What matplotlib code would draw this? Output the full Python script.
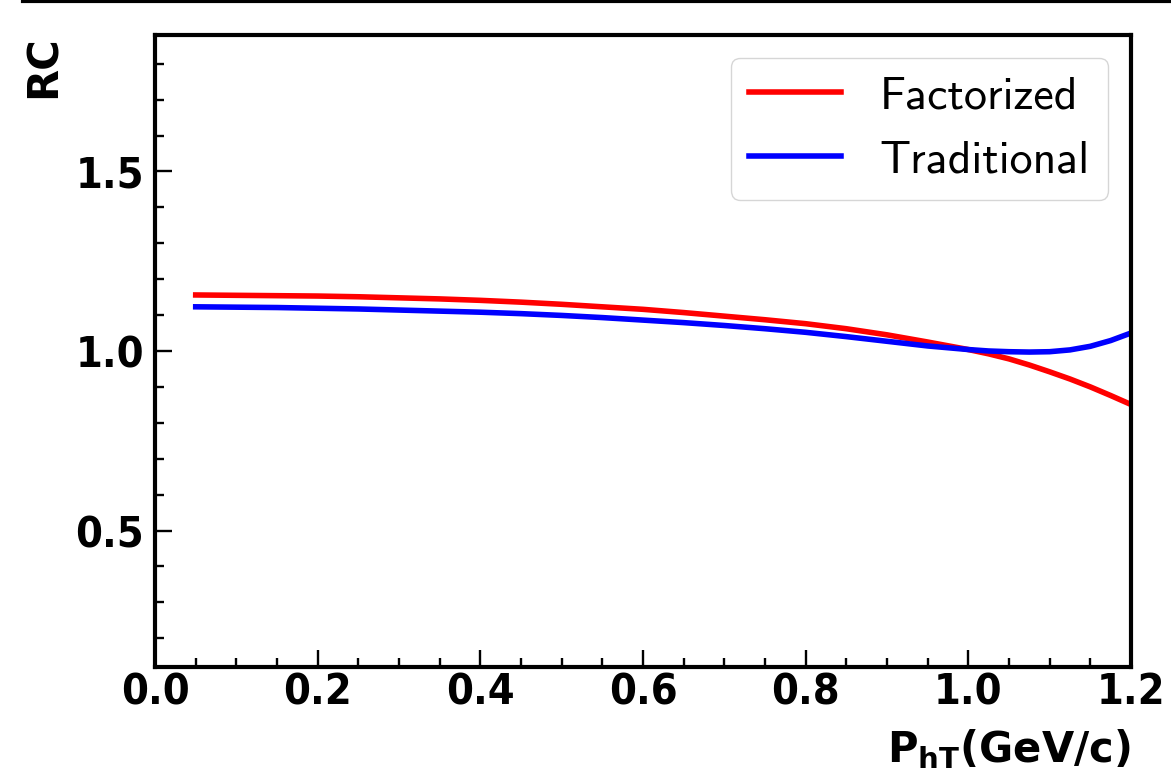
import matplotlib
matplotlib.use("Agg")
import matplotlib.pyplot as plt
from matplotlib.lines import Line2D
from matplotlib.ticker import MultipleLocator

# Transverse momentum grid (GeV/c)
pht = [0.05, 0.10, 0.15, 0.20, 0.25, 0.30, 0.35, 0.40, 0.45, 0.50,
       0.55, 0.60, 0.65, 0.70, 0.75, 0.80, 0.85, 0.90, 0.95, 1.00,
       1.025, 1.05, 1.075, 1.10, 1.125, 1.15, 1.175, 1.20]

# Radiative-correction factor for each approach
rc_factorized = [1.156, 1.155, 1.154, 1.153, 1.151, 1.148, 1.145, 1.141, 1.136, 1.130,
                 1.123, 1.116, 1.107, 1.097, 1.087, 1.076, 1.062, 1.045, 1.025, 1.004,
                 0.992, 0.978, 0.961, 0.942, 0.922, 0.900, 0.876, 0.851]
rc_traditional = [1.123, 1.122, 1.121, 1.119, 1.117, 1.114, 1.111, 1.108, 1.104, 1.099,
                  1.093, 1.086, 1.079, 1.071, 1.062, 1.052, 1.040, 1.027, 1.014, 1.004,
                  1.000, 0.998, 0.997, 0.998, 1.003, 1.013, 1.029, 1.050]

series_labels = ["Factorized", "Traditional"]
xticks = [0.0, 0.2, 0.4, 0.6, 0.8, 1.0, 1.2]
yticks = [0.5, 1.0, 1.5]

bold = dict(family="DejaVu Sans", weight="bold", stretch="condensed")

fig = plt.figure(figsize=(11.71, 7.81), dpi=100)
ax = fig.add_axes([0.1324, 0.146, 0.8334, 0.8092])

ax.plot(pht, rc_factorized, color="red", lw=4.0, label=series_labels[0])
ax.plot(pht, rc_traditional, color="blue", lw=4.0, label=series_labels[1])

ax.set_xlim(0.0, 1.2)
ax.set_ylim(0.12, 1.88)
ax.set_xticks(xticks)
ax.set_yticks(yticks)
ax.xaxis.set_minor_locator(MultipleLocator(0.05))
ax.yaxis.set_minor_locator(MultipleLocator(0.1))

for s in ax.spines.values():
    s.set_linewidth(3.0)

ax.tick_params(which="both", direction="in", top=False, right=False, width=1.7)
ax.tick_params(which="major", length=12)
ax.tick_params(which="minor", length=6.5)
ax.tick_params(axis="x", which="major", pad=3)
ax.tick_params(axis="y", which="major", pad=8)

ax.set_xticklabels([f"{v:.1f}" for v in xticks], fontsize=31, **bold)
ax.set_yticklabels([f"{v:.1f}" for v in yticks], fontsize=31, **bold)

ax.set_xlabel(r"$\mathbf{P_{hT}}$(GeV/c)", fontsize=30, loc="right",
              family="DejaVu Sans", weight="bold", labelpad=10)
ax.set_ylabel("RC", fontsize=30, loc="top", family="DejaVu Sans", weight="bold")
ax.yaxis.set_label_coords(-0.114, 1.0)
ax.yaxis.label.set_verticalalignment("center")

leg = ax.legend(loc="upper right", prop={"family": "cmss10", "size": 33},
                handlelength=2.0, handletextpad=0.85, borderpad=0.4,
                labelspacing=0.5, fancybox=True, framealpha=0.8)

# rule across the top of the figure
fig.add_artist(Line2D([0.02, 1.0], [0.9985, 0.9985], transform=fig.transFigure,
                      color="black", lw=3))

fig.savefig("out.png", dpi=100)
